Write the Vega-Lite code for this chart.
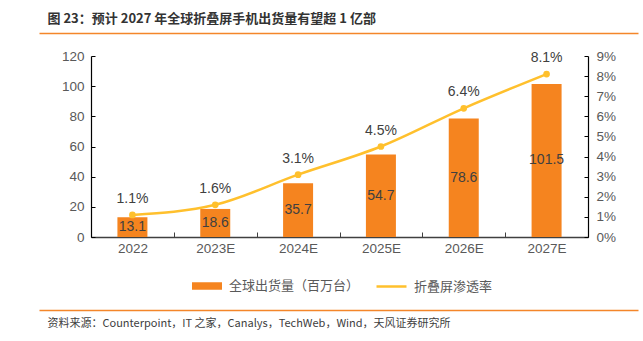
{
  "$schema": "https://vega.github.io/schema/vega-lite/v6.json",
  "width": 497,
  "height": 181,
  "autosize": "none",
  "padding": {"left": 91, "top": 56, "right": 55, "bottom": 104},
  "background": "white",
  "config": {
    "view": {"stroke": null},
    "font": "Liberation Sans, Noto Sans CJK SC",
    "axis": {"labelFont": "Liberation Sans, Noto Sans CJK SC", "labelFontSize": 13.5, "labelColor": "#595959", "grid": false, "titleFont": "Noto Sans CJK SC"}
  },
  "data": {
    "values": [
      {"year": "2022", "value": 13.1, "rate": 0.011},
      {"year": "2023E", "value": 18.6, "rate": 0.016},
      {"year": "2024E", "value": 35.7, "rate": 0.031},
      {"year": "2025E", "value": 54.7, "rate": 0.045},
      {"year": "2026E", "value": 78.6, "rate": 0.064},
      {"year": "2027E", "value": 101.5, "rate": 0.081}
    ]
  },
  "layer": [
    {
      "mark": {"type": "bar", "width": 30},
      "encoding": {
        "x": {"field": "year", "type": "nominal", "sort": null,
          "scale": {"paddingInner": 0, "paddingOuter": 0},
          "axis": {"title": null, "labelAngle": 0, "tickBand": "extent", "tickSize": -5, "tickColor": "#404040", "domainColor": "#404040", "domainWidth": 1.5, "labelPadding": 9}},
        "y": {"field": "value", "type": "quantitative",
          "scale": {"domain": [0, 120]},
          "axis": {"title": null, "values": [0, 20, 40, 60, 80, 100, 120], "tickSize": -4, "tickColor": "#000", "domainColor": "#000", "domainWidth": 1.2, "labelPadding": 11}},
        "fill": {"datum": "全球出货量（百万台）", "type": "nominal",
          "scale": {"range": ["#F5841F"]},
          "legend": {"title": null, "orient": "none", "legendX": 100, "legendY": 214, "symbolType": "M-1,-0.25H1V0.25H-1Z", "symbolSize": 900, "labelFont": "Noto Sans CJK SC", "labelFontSize": 13, "labelColor": "#595959", "labelOffset": 6}}
      }
    },
    {
      "mark": {"type": "text", "fontSize": 14, "color": "#404040", "baseline": "middle"},
      "encoding": {
        "x": {"field": "year", "type": "nominal", "sort": null, "scale": {"paddingInner": 0, "paddingOuter": 0}, "axis": null},
        "y": {"field": "value", "type": "quantitative", "scale": {"domain": [0, 240]}, "axis": null},
        "text": {"field": "value", "type": "quantitative", "format": ".1f"}
      }
    },
    {
      "mark": {"type": "line", "interpolate": "monotone", "strokeWidth": 2.5,
        "point": {"filled": true, "size": 22, "color": "#FFC02D"}},
      "encoding": {
        "x": {"field": "year", "type": "nominal", "sort": null, "scale": {"paddingInner": 0, "paddingOuter": 0}, "axis": null},
        "y": {"field": "rate", "type": "quantitative",
          "scale": {"domain": [0, 0.09]},
          "axis": {"title": null, "orient": "right", "format": ".0%", "values": [0, 0.01, 0.02, 0.03, 0.04, 0.05, 0.06, 0.07, 0.08, 0.09], "tickSize": -4, "tickColor": "#000", "domainColor": "#000", "domainWidth": 1.2, "labelPadding": 12}},
        "stroke": {"datum": "折叠屏渗透率", "type": "nominal",
          "scale": {"range": ["#FFC02D"]},
          "legend": {"title": null, "orient": "none", "legendX": 284, "legendY": 214, "symbolType": "stroke", "symbolSize": 900, "symbolStrokeWidth": 2.5, "labelFont": "Noto Sans CJK SC", "labelFontSize": 13, "labelColor": "#595959", "labelOffset": 6}}
      }
    },
    {
      "mark": {"type": "text", "fontSize": 14, "color": "#404040", "baseline": "middle", "dy": -16},
      "encoding": {
        "x": {"field": "year", "type": "nominal", "sort": null, "scale": {"paddingInner": 0, "paddingOuter": 0}, "axis": null},
        "y": {"field": "rate", "type": "quantitative", "scale": {"domain": [0, 0.09]}, "axis": null},
        "text": {"field": "rate", "type": "quantitative", "format": ".1%"}
      }
    },
    {
      "mark": {"type": "tick", "opacity": 0},
      "encoding": {
        "x": {"field": "year", "type": "nominal", "sort": null,
          "scale": {"range": [-52, 547]},
          "axis": {"orient": "top", "offset": 23, "labels": false, "ticks": false, "domainColor": "#F4862A", "domainWidth": 1.5,
            "title": "图 23：预计 2027 年全球折叠屏手机出货量有望超 1 亿部", "titleFont": "Noto Sans CJK SC", "titleFontSize": 13, "titleFontWeight": "bold", "titleColor": "#333333",
            "titleAnchor": "start", "titleAlign": "left", "titleBaseline": "middle", "titleX": -44, "titleY": -15, "titleAngle": 0}}
      }
    },
    {
      "mark": {"type": "tick", "opacity": 0},
      "encoding": {
        "x": {"field": "year", "type": "nominal", "sort": null,
          "scale": {"range": [-52, 547]},
          "axis": {"orient": "bottom", "offset": 73, "labels": false, "ticks": false, "domainColor": "#F4862A", "domainWidth": 1.5,
            "title": "资料来源：Counterpoint，IT 之家，Canalys，TechWeb，Wind，天风证券研究所", "titleFont": "Noto Sans CJK SC", "titleFontSize": 11, "titleFontWeight": "normal", "titleColor": "#404040",
            "titleAnchor": "start", "titleAlign": "left", "titleBaseline": "middle", "titleX": -44, "titleY": 13, "titleAngle": 0}}
      }
    }
  ],
  "resolve": {"scale": {"x": "independent", "y": "independent"}, "axis": {"x": "independent", "y": "independent"}}
}
